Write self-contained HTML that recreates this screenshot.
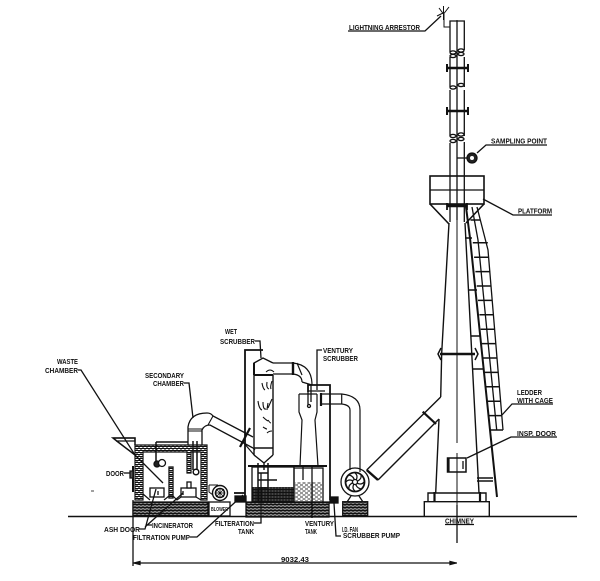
<!DOCTYPE html>
<html>
<head>
<meta charset="utf-8">
<style>
html,body{margin:0;padding:0;background:#fff;width:600px;height:581px;overflow:hidden}
svg{display:block;filter:blur(.35px)}
text{font-family:"Liberation Sans",sans-serif;font-size:7px;font-weight:bold;fill:#111}
</style>
</head>
<body>
<svg width="600" height="581" viewBox="0 0 600 581" xmlns="http://www.w3.org/2000/svg">
<defs>
<pattern id="brick" width="4" height="3" patternUnits="userSpaceOnUse">
<rect width="4" height="3" fill="#fff"/>
<path d="M0 .5H4M0 2H4M1 .5V2M3 2V3M3 0V.5" stroke="#111" stroke-width="1" fill="none"/>
</pattern>
<pattern id="wall" width="4" height="4" patternUnits="userSpaceOnUse">
<rect width="4" height="4" fill="#fff"/>
<path d="M0 .5H4M0 2.5H4M1 .5V2.5M3 2.5V4M3 0V.5" stroke="#111" stroke-width="1" fill="none"/>
</pattern>
<pattern id="dark" width="3" height="3" patternUnits="userSpaceOnUse">
<rect width="3" height="3" fill="#444"/>
<path d="M0 .5H3M1 0V3" stroke="#111" stroke-width="1"/>
</pattern>
<pattern id="liq" width="5" height="4" patternUnits="userSpaceOnUse">
<path d="M0 1H3M2.500 3H5M0 3H.5" stroke="#333" stroke-width=".9"/>
</pattern>
</defs>

<g fill="none" stroke="#111" stroke-width="1.300">
<!-- ground and dimension -->
<path d="M68 516.500H577" stroke-width="1.400"/>
<path d="M133 500V566M457 505V543M133 563H457"/>
<path d="M134 563l6-1.500v3zM456 563l-6-1.500v3z" fill="#111"/>

<!-- chimney -->
<path d="M449 223L441.700 353L440.700 397M439 419L435.700 493M465 223L479 493" stroke-width="1.400"/>
<path d="M424.300 516V501.700H489.300V516M428 502V493H486V502" stroke-width="1.400"/>
<path d="M434.500 492V502M480 492V502" stroke-width="2.200"/>
<path d="M457 20V443M457 453V516" stroke-width="1"/>
<path d="M440 354H475" stroke-width="2.400"/>
<path d="M441 348l-3 6 3 6M475 348l3 6-3 6" stroke-width="1.500"/>
<rect x="447.500" y="458" width="18.500" height="14" stroke-width="1.500"/>
<path d="M448.500 458V472" stroke-width="2.200"/>
<path d="M463 461V469"/>

<!-- stack segments -->
<path d="M450 52V21H464.300V50M450 87V57M464.300 87V57M450 136V90M464.300 136V90M450 222V143M464.300 222V142"/>
<path d="M457 21V220"/>
<ellipse cx="453" cy="52.500" rx="3" ry="1.600"/><ellipse cx="461" cy="50.500" rx="3" ry="1.600"/>
<ellipse cx="453" cy="56" rx="3" ry="1.600"/><ellipse cx="461" cy="54" rx="3" ry="1.600"/>
<ellipse cx="453" cy="87.500" rx="3" ry="1.600"/><ellipse cx="461" cy="85" rx="3" ry="1.600"/>
<ellipse cx="453" cy="136" rx="3" ry="1.600"/><ellipse cx="461" cy="134.500" rx="3" ry="1.600"/>
<ellipse cx="453" cy="141" rx="3" ry="1.600"/><ellipse cx="461" cy="139" rx="3" ry="1.600"/>
<path d="M447 68H468M447 111H468" stroke-width="2.400"/>
<path d="M447 64v8M468 64v8M447 107v8M468 107v8" stroke-width="2"/>

<!-- lightning arrestor -->
<path d="M439 8L443.500 14L449 7M443.500 6V20M444 14V27H450M437 16L443 13" stroke-width="1"/>
<path d="M348 31H425L441 16"/>

<!-- sampling -->
<circle cx="472" cy="158" r="5" fill="#222"/>
<circle cx="472" cy="158" r="2" fill="#fff" stroke="none"/>
<path d="M457 158H467"/>
<path d="M477 153L486 145H547"/>

<!-- platform -->
<rect x="430" y="176" width="54" height="28" stroke-width="1.600"/>
<path d="M430 190H484"/>
<path d="M447 205.500H467" stroke-width="3.400"/>
<path d="M447 203v7M467 203v7" stroke-width="1.800"/>
<path d="M430 204L449 224M484 204L466 223" stroke-width="1.600"/>
<path d="M483 199L513 215H552"/>

<!-- ladder -->
<path d="M466 207L470 238L497 497" stroke-width="2"/>
<path d="M472 207L478 240L496.700 430M477 207L488 250L503 430" stroke-width="1.300"/>
<path d="M489.900 430H503M488.600 415.600H501.800M487.200 401.200H500.700M485.900 386.800H499.500M484.600 372.400H498.300M483.300 358H497.200M482 343.600H496M480.700 329.200H494.800M479.400 314.800H493.700M478 300.400H492.500M476.700 286H491.300M475.400 271.600H490.200M474.100 257.200H489M472.800 242.800H487.800M470.500 220H480" stroke-width="1.500"/>
<path d="M465 238H472M468 290H477M471 336H480M473 369H483M477 478H493M477 481H493" stroke-width="1.400"/>
<path d="M502 415L512 404H553"/>
<path d="M467 458L511 437H557"/>

<!-- duct to chimney -->
<path d="M366.700 470L440.700 397M378 480L439 419" stroke-width="1.400"/>
<path d="M422.700 411.700L436 424" stroke-width="2.200"/>
<path d="M366.700 470L378 480" stroke-width="2.400"/>

<!-- fan -->
<circle cx="355" cy="482" r="14" fill="#fff" stroke-width="1.300"/>
<circle cx="355" cy="482" r="9.500" fill="#fff" stroke-width="1.800"/>
<path d="M355 473q4 3 0 9M364 482q-3 4-9 0M355 491q-4-3 0-9M346 482q3-4 9 0M349 475q5 1 6 7M361 475q1 5-6 7M361 489q-5-1-6-7M349 489q-1-5 6-7" stroke-width="1.200"/>
<circle cx="355" cy="482" r="2.500" fill="#fff"/>
<path d="M347 502L351 496M363 502L359 496"/>
<rect x="342.700" y="501.700" width="25" height="14" fill="url(#brick)"/>
<path d="M350 410V470M360 410V472M321.700 394H341.700Q360 396 360 410M321.700 404H341.700Q350 405 350 410M341.700 394V404" stroke-width="1.200"/>

<!-- tanks and bases -->
<rect x="246" y="502" width="83" height="15" fill="url(#brick)"/>
<rect x="133" y="502" width="75" height="14" fill="url(#brick)"/>
<rect x="252" y="467" width="42" height="35"/>
<rect x="252.500" y="487" width="41" height="15" fill="url(#dark)" stroke="none"/>
<rect x="294" y="468" width="29" height="34"/>
<rect x="295" y="482" width="27" height="19" fill="url(#liq)" stroke="none"/>
<path d="M248 466H327" stroke-width="2"/>
<path d="M312 466V518M303 466V480"/>
<path d="M258 463V502M268 463V502M258 473H268M258 480H277M258 488H268M258 502H268" stroke-width="1.500"/>

<!-- wet scrubber -->
<path d="M245 500V350H263" stroke-width="1.800"/>
<path d="M254 455V363L263 358L273 363M273 375V455M254 448H273M254 455L264 463L273 455M264 463V470" stroke-width="1.400"/>
<path d="M254 375H273" stroke-width="2"/>
<path d="M254 363V375" stroke-width="2"/>
<path d="M273 363H293M273 374H293" stroke-width="1.200"/>
<path d="M293 362V375" stroke-width="2.400"/>
<path d="M293 363Q312 365 312 385M293 374Q302 375 302 382M297 363L302 375M302 382L312 385" stroke-width="1.200"/>
<path d="M262 383q1 6 3 7M267 382q-1 6 2 7M272 381q-2 6-1 8M258 401q1 8 4 9M263 402q0 8 3 7M268 403q-1 6-1 7M272 399l-4 9M263 417q3 3 5 4M268 420q2 3 3 3M263 427q3 2 4 2M267 433q2-2 5-2" stroke-width="1.100"/>
<path d="M266 372q4-4 8 0" stroke-width="1"/>

<!-- venturi -->
<path d="M299 394L299 412L302 420L300 466M317 394L317 412L315 420L318 466M299 394H317" stroke-width="1.200"/>
<path d="M308 392V385H330V500" stroke-width="1.800"/>
<path d="M308 391H325" stroke-width="1.300"/>
<path d="M308 392V405M311 385V402" stroke-width="1.300"/>
<circle cx="309" cy="406" r="1.500"/>
<path d="M321 393V406" stroke-width="2.200"/>

<!-- scrubber pumps -->
<rect x="330" y="497" width="8" height="6" fill="#111"/>
<rect x="235" y="496" width="11" height="6" fill="#111"/>
<path d="M234 493H245" stroke-width="1.800"/>

<!-- blower -->
<rect x="209" y="502" width="21" height="14"/>
<circle cx="220" cy="493" r="7.500" stroke-width="1.400"/>
<circle cx="220" cy="493" r="4.500" stroke-width="1.600"/>
<path d="M216 489L224 497M224 489L216 497M220 488V498M215 493H225" stroke-width=".8"/>
<path d="M209 485L218 485M209 485V492L213 495" stroke-width="1"/>

<!-- incinerator walls -->
<path d="M135 445H207V500H201V452H191V473H187V452H143V500H135Z" fill="url(#wall)" stroke-width="1.200"/>
<rect x="169" y="467" width="4" height="31" fill="url(#wall)"/>
<path d="M143 494l7 6M164 500l5-4 4 0 4 4 4-3M196 497l5 3" stroke-width="1.200"/>
<rect x="150" y="488" width="14" height="9" fill="#fff" stroke-width="1.300"/>
<rect x="181" y="488" width="15" height="9" fill="#fff" stroke-width="1.300"/>
<rect x="187" y="482" width="4" height="6" fill="#fff"/>
<path d="M158 491V495M183 491V495"/>
<!-- hopper -->
<path d="M135 445V438H113L118 442L135 455" stroke-width="1.500"/>
<path d="M113 438H135V441H116" stroke-width="1.200"/>
<!-- door -->
<path d="M133 466V492" stroke-width="2"/>
<path d="M130 471H133V478H130Z" fill="#555"/>
<path d="M124 473H130"/>
<!-- burners -->
<path d="M156 442H188M156 442V462" stroke-width="1.500"/>
<circle cx="157" cy="464" r="3" fill="#222"/>
<circle cx="162" cy="463" r="3.500" fill="#fff"/>
<circle cx="196" cy="472" r="2.800" stroke-width="1.500"/>
<path d="M193 441V470M197 441V470" stroke-width="1.500"/>

<!-- inlet duct and elbow -->
<path d="M188 445V427Q190 413 207 413Q211 413 213 416L253 437M202 445V430Q204 425 210 425L253 448" stroke-width="1.300"/>
<path d="M188 429H202M188 431H202" stroke-width="1.100"/>
<path d="M213 416L208 425" stroke-width="1.100"/>
<path d="M250 428L240 447" stroke-width="2.200"/>
<path d="M253 448L255 450M243 442L255 456" stroke-width="1.200"/>

<!-- leaders -->
<path d="M78 370H81L135 455L163 483"/>
<path d="M184 383H189L193 418"/>
<path d="M255 341H260L261 358"/>
<path d="M322 350H317V390"/>
<path d="M139 529H145L156 489M145 527L183 493M152 525H146"/>
<path d="M190 537H197L243 495"/>
<path d="M254 523H261V473"/>
<path d="M341 536H336L334 503"/>
<path d="M445 524.500H474"/>
<path d="M94 491h-3" stroke-width=".8"/>
</g>

<!-- labels -->
<text x="349" y="30" textLength="71" lengthAdjust="spacingAndGlyphs">LIGHTNING ARRESTOR</text>
<text x="491" y="143.500" textLength="56" lengthAdjust="spacingAndGlyphs">SAMPLING POINT</text>
<text x="518" y="213.500" textLength="34" lengthAdjust="spacingAndGlyphs">PLATFORM</text>
<text x="517" y="395" textLength="25" lengthAdjust="spacingAndGlyphs">LEDDER</text>
<text x="517" y="403" textLength="36" lengthAdjust="spacingAndGlyphs">WITH CAGE</text>
<text x="517" y="436" textLength="39" lengthAdjust="spacingAndGlyphs">INSP. DOOR</text>
<text x="445" y="523.500" textLength="29" lengthAdjust="spacingAndGlyphs">CHIMNEY</text>
<text x="281" y="562" textLength="28" lengthAdjust="spacingAndGlyphs">9032.43</text>
<text x="57" y="364" textLength="21" lengthAdjust="spacingAndGlyphs">WASTE</text>
<text x="45" y="373" textLength="33" lengthAdjust="spacingAndGlyphs">CHAMBER</text>
<text x="145" y="378" textLength="39" lengthAdjust="spacingAndGlyphs">SECONDARY</text>
<text x="153" y="386" textLength="31" lengthAdjust="spacingAndGlyphs">CHAMBER</text>
<text x="225" y="334" textLength="12" lengthAdjust="spacingAndGlyphs">WET</text>
<text x="220" y="344" textLength="35" lengthAdjust="spacingAndGlyphs">SCRUBBER</text>
<text x="323" y="353" textLength="30" lengthAdjust="spacingAndGlyphs">VENTURY</text>
<text x="323" y="361" textLength="35" lengthAdjust="spacingAndGlyphs">SCRUBBER</text>
<text x="106" y="476" textLength="18" lengthAdjust="spacingAndGlyphs">DOOR</text>
<text x="104" y="532" textLength="36" lengthAdjust="spacingAndGlyphs">ASH DOOR</text>
<text x="152" y="528" textLength="41" lengthAdjust="spacingAndGlyphs">INCINERATOR</text>
<text x="133" y="540" textLength="57" lengthAdjust="spacingAndGlyphs">FILTRATION PUMP</text>
<text x="215" y="526" textLength="39" lengthAdjust="spacingAndGlyphs">FILTERATION</text>
<text x="238" y="534" textLength="16" lengthAdjust="spacingAndGlyphs">TANK</text>
<text x="305" y="526" textLength="29" lengthAdjust="spacingAndGlyphs">VENTURY</text>
<text x="305" y="534" textLength="12" lengthAdjust="spacingAndGlyphs">TANK</text>
<text x="342" y="532" textLength="16" lengthAdjust="spacingAndGlyphs">I.D. FAN</text>
<text x="343" y="538" textLength="57" lengthAdjust="spacingAndGlyphs">SCRUBBER PUMP</text>
<text x="211" y="511" textLength="17" lengthAdjust="spacingAndGlyphs" style="font-size:5px">BLOWER</text>
</svg>
</body>
</html>
